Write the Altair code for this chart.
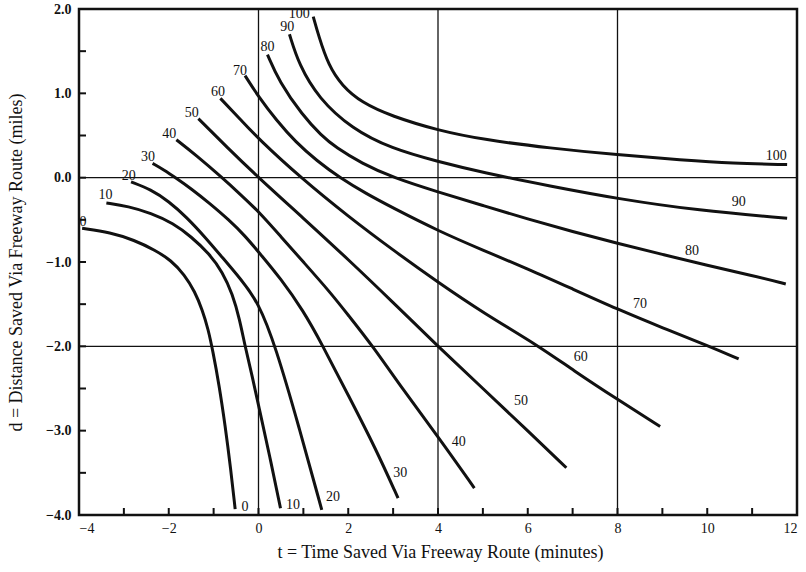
import altair as alt
import pandas as pd

# ---- curve data (t = time saved, d = distance saved), one pair of lists per percentage level
T0 = [-3.93, -3.3, -2.77, -2.3, -1.95, -1.65, -1.42, -1.25, -1.12, -1.02, -0.88, -0.74, -0.62, -0.52]
D0 = [-0.60, -0.65, -0.74, -0.86, -0.98, -1.15, -1.35, -1.57, -1.8, -2.05, -2.45, -2.95, -3.45, -3.93]

T10 = [-3.39, -2.9, -2.4, -1.9, -1.5, -1.1, -0.8, -0.58, -0.42, -0.3, -0.14, 0.02, 0.25, 0.49]
D10 = [-0.30, -0.34, -0.42, -0.54, -0.70, -0.90, -1.12, -1.38, -1.68, -2.0, -2.35, -2.75, -3.3, -3.92]

T20 = [-2.84, -2.4, -2.0, -1.6, -1.2, -0.8, -0.4, 0.0, 0.38, 0.9, 1.41]
D20 = [-0.05, -0.14, -0.28, -0.47, -0.70, -0.95, -1.2, -1.48, -2.0, -2.95, -3.94]

T30 = [-2.36, -2.1, -1.85, -1.5, -1.1, -0.66, -0.3, 0.0, 0.5, 1.0, 1.4, 2.0, 2.6, 3.11]
D30 = [0.17, 0.09, 0.0, -0.13, -0.30, -0.50, -0.69, -0.88, -1.2, -1.58, -1.96, -2.58, -3.2, -3.80]

T40 = [-1.83, -1.4, -0.81, -0.4, 0.0, 0.5, 1.0, 1.6, 2.0, 2.55, 3.2, 4.0, 4.81]
D40 = [0.45, 0.27, 0.0, -0.2, -0.40, -0.70, -1.0, -1.36, -1.63, -2.0, -2.5, -3.07, -3.68]

T50 = [-1.34, -0.7, 0.0, 1.0, 2.0, 3.0, 4.0, 5.0, 6.0, 6.86]
D50 = [0.70, 0.36, 0.0, -0.48, -0.97, -1.48, -2.0, -2.5, -3.0, -3.44]

T60 = [-0.85, -0.4, 0.0, 0.94, 2.0, 3.0, 4.0, 5.0, 6.26, 7.0, 8.0, 8.95]
D60 = [0.94, 0.69, 0.46, 0.0, -0.46, -0.86, -1.24, -1.6, -2.0, -2.28, -2.63, -2.95]

T70 = [-0.30, 0.0, 0.4, 0.83, 1.3, 1.81, 2.4, 3.0, 4.0, 5.0, 6.0, 7.0, 8.0, 9.0, 10.05, 10.7]
D70 = [1.21, 0.96, 0.68, 0.42, 0.20, 0.0, -0.19, -0.36, -0.63, -0.86, -1.08, -1.32, -1.56, -1.78, -2.0, -2.15]

T80 = [0.2, 0.46, 0.98, 1.4, 1.72, 2.3, 3.0, 4.0, 5.0, 6.0, 7.0, 8.0, 9.0, 10.0, 11.0, 11.75]
D80 = [1.46, 1.14, 0.74, 0.50, 0.36, 0.17, 0.0, -0.17, -0.33, -0.49, -0.64, -0.78, -0.91, -1.04, -1.16, -1.26]

T90 = [0.69, 0.90, 1.34, 2.08, 2.96, 4.0, 5.0, 6.5, 8.0, 9.8, 11.78]
D90 = [1.70, 1.34, 0.94, 0.58, 0.345, 0.19, 0.06, -0.10, -0.25, -0.39, -0.48]

T100 = [1.22, 1.34, 1.56, 1.86, 2.30, 2.96, 4.0, 5.02, 6.5, 8.0, 9.44, 10.56, 11.78]
D100 = [1.91, 1.68, 1.33, 1.09, 0.89, 0.73, 0.56, 0.45, 0.35, 0.27, 0.21, 0.17, 0.155]

# ---- curve labels
LABEL_TEXT = ["0", "0", "10", "10", "20", "20", "30", "30", "40", "40", "50", "50",
              "60", "60", "70", "70", "80", "80", "90", "90", "100", "100"]
LABEL_T = [-3.91, -0.30, -3.41, 0.77, -2.89, 1.66, -2.46, 3.16, -1.99, 4.46, -1.49, 5.85,
           -0.90, 7.18, -0.41, 8.5, 0.20, 9.66, 0.64, 10.7, 0.91, 11.54]
LABEL_D = [-0.52, -3.90, -0.20, -3.88, 0.02, -3.79, 0.24, -3.50, 0.52, -3.14, 0.77, -2.65,
           1.02, -2.13, 1.26, -1.50, 1.55, -0.87, 1.79, -0.29, 1.94, 0.255]

# ---- axis / grid values
X_LABELS = [-4, -2, 0, 2, 4, 6, 8, 10, 12]
Y_LABELS = [2.0, 1.0, 0.0, -1.0, -2.0, -3.0, -4.0]
X_TICKS = list(range(-4, 13))
Y_TICKS = [2.0, 1.5, 1.0, 0.5, 0.0, -0.5, -1.0, -1.5, -2.0, -2.5, -3.0, -3.5, -4.0]
GRID_T = [0, 4, 8]
GRID_D = [0.0, -2.0]

curves = {0: (T0, D0), 10: (T10, D10), 20: (T20, D20), 30: (T30, D30), 40: (T40, D40),
          50: (T50, D50), 60: (T60, D60), 70: (T70, D70), 80: (T80, D80), 90: (T90, D90),
          100: (T100, D100)}
rows = []
for lev, (ts, ds) in curves.items():
    for i, (t, d) in enumerate(zip(ts, ds)):
        rows.append({"level": lev, "i": i, "t": t, "d": d})
df = pd.DataFrame(rows)
labels_df = pd.DataFrame({"txt": LABEL_TEXT, "t": LABEL_T, "d": LABEL_D})

W, H = 718, 506
INK = "#111111"
SERIF = "Liberation Serif"
xs = alt.Scale(domain=[-4, 12], nice=False, zero=False)
ys = alt.Scale(domain=[-4, 2], nice=False, zero=False)

x_axis = alt.Axis(values=X_LABELS, format="d", ticks=False, domain=False, grid=False,
                  labelFont=SERIF, labelFontSize=14, labelColor=INK, labelPadding=6,
                  title="t = Time Saved Via Freeway Route (minutes)",
                  titleFont=SERIF, titleFontSize=18, titleFontWeight="normal", titleColor=INK,
                  titleX=361, titleY=37, titleBaseline="middle", titleAlign="center")
y_axis = alt.Axis(values=Y_LABELS, format=".1f", ticks=False, domain=False, grid=False,
                  labelFont=SERIF, labelFontSize=14, labelColor=INK, labelPadding=8,
                  labelFontWeight="bold",
                  title="d = Distance Saved Via Freeway Route (miles)",
                  titleFont=SERIF, titleFontSize=18, titleFontWeight="normal", titleColor=INK,
                  titleX=-63, titleY=253, titleAngle=270, titleBaseline="middle",
                  titleAlign="center")

X = alt.X("t:Q", scale=xs, axis=x_axis)
Y = alt.Y("d:Q", scale=ys, axis=y_axis)

grid_v = alt.Chart(pd.DataFrame({"t": GRID_T})).mark_rule(color=INK, strokeWidth=1.3).encode(x=X)
grid_h = alt.Chart(pd.DataFrame({"d": GRID_D})).mark_rule(color=INK, strokeWidth=1.3).encode(y=Y)

ticks_y = alt.Chart(pd.DataFrame({"d": Y_TICKS})).mark_rule(color=INK, strokeWidth=2).encode(
    y=Y, x=alt.value(0), x2=alt.value(7))
ticks_x = alt.Chart(pd.DataFrame({"t": X_TICKS})).mark_rule(color=INK, strokeWidth=2).encode(
    x=X, y=alt.value(H), y2=alt.value(H - 7))

lines = alt.Chart(df).mark_line(color=INK, strokeWidth=3, interpolate="basis").encode(
    x=X, y=Y, detail="level:N", order="i:Q")

texts = alt.Chart(labels_df).mark_text(font=SERIF, fontSize=14, color=INK).encode(
    x=X, y=Y, text="txt:N")

chart = alt.layer(grid_v, grid_h, ticks_y, ticks_x, lines, texts).properties(
    width=W, height=H,
    autosize=alt.AutoSizeParams(type="none"),
    padding={"left": 79, "top": 9, "right": 9, "bottom": 57},
    background="white",
).configure_view(stroke=INK, strokeWidth=2.5)

chart.save("out.html", embed_options={"renderer": "svg", "actions": False})
